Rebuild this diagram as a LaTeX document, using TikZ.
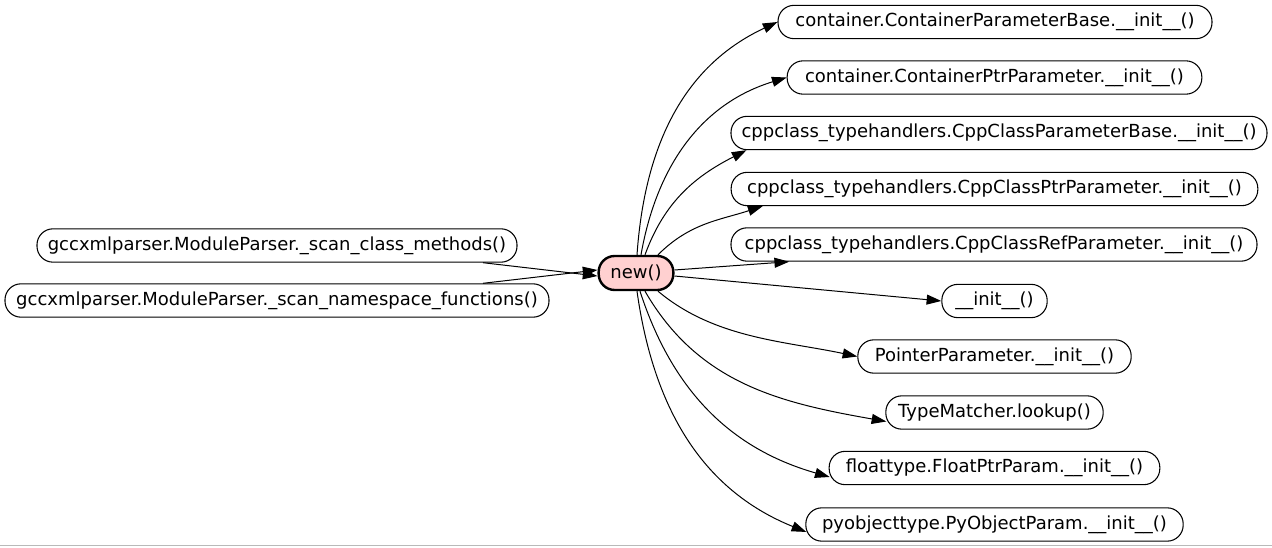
\documentclass[tikz,border=0pt]{standalone}
\usepackage{fontspec}
\setmainfont{DejaVu Sans}
\usetikzlibrary{arrows.meta,calc}
\definecolor{newfill}{RGB}{255,208,208}
\begin{document}
\begin{tikzpicture}[x=0.75pt,y=0.75pt,
  fn/.style={draw=black,line width=0.8pt,rounded corners=12pt,minimum height=25pt,
    inner sep=0pt,font=\fontsize{13.5pt}{15pt}\selectfont,fill=white},
  mainfn/.style={fn,fill=newfill,line width=1.8pt,minimum height=25.5pt},
  call/.style={line width=0.75pt,-{Triangle[length=11pt,width=7.5pt]}}]
\useasboundingbox[fill=white] (0,0) rectangle (1272,547);
\draw[gray!55,line width=1pt] (0,1.5) -- (1272,1.5);
% nodes
\node[mainfn,minimum width=56pt] (new) at (636,274) {new()};
\node[fn,minimum width=360pt] (l1) at (277,301.5) {gccxmlparser.ModuleParser.\_scan\_class\_methods()};
\node[fn,minimum width=408pt] (l2) at (277,246.5) {gccxmlparser.ModuleParser.\_scan\_namespace\_functions()};
\node[fn,minimum width=325.5pt] (c1) at (995,525) {container.ContainerParameterBase.\_\_init\_\_()};
\node[fn,minimum width=311pt] (c2) at (994.5,469.5) {container.ContainerPtrParameter.\_\_init\_\_()};
\node[fn,minimum width=402pt] (c3) at (999,414) {cppclass\_typehandlers.CppClassParameterBase.\_\_init\_\_()};
\node[fn,minimum width=395pt] (c4) at (994.5,358) {cppclass\_typehandlers.CppClassPtrParameter.\_\_init\_\_()};
\node[fn,minimum width=394.5pt] (c5) at (994,302.5) {cppclass\_typehandlers.CppClassRefParameter.\_\_init\_\_()};
\node[fn,minimum width=79pt] (c6) at (994.5,246) {\_\_init\_\_()};
\node[fn,minimum width=205pt] (c7) at (994.5,190.5) {PointerParameter.\_\_init\_\_()};
\node[fn,minimum width=163pt] (c8) at (994.5,134.5) {TypeMatcher.lookup()};
\node[fn,minimum width=248pt] (c9) at (994.5,79) {floattype.FloatPtrParam.\_\_init\_\_()};
\node[fn,minimum width=283pt] (c10) at (994.5,22.5) {pyobjecttype.PyObjectParam.\_\_init\_\_()};
% incoming
\draw[call] ([xshift=154.5pt]l1.south) -- ([yshift=-2.25pt]new.west);
\draw[call] ([xshift=154.5pt]l2.north) -- ([yshift=2.25pt]new.west);
% outgoing, upper
\draw[call] ([xshift=0.75pt]new.north) to[out=86,in=205] (c1.west);
\draw[call] ([xshift=3.75pt]new.north) to[out=80,in=197] (c2.west);
\draw[call] ([xshift=6.75pt]new.north) to[out=70,in=207] ([xshift=12pt]c3.south west);
\draw[call] ([xshift=16.5pt]new.north) to[out=45,in=198] ([xshift=24pt]c4.south west);
\draw[call] ([yshift=2.25pt]new.east) -- ([xshift=44pt]c5.south west);
\draw[call] ([yshift=-2.25pt]new.east) -- (c6.west);
% outgoing, lower
\draw[call] ([xshift=16.5pt]new.south) to[out=-40,in=168,looseness=0.9] (c7.west);
\draw[call] ([xshift=6.75pt]new.south) to[out=-60,in=170] ([xshift=0.75pt,yshift=-6.75pt]c8.west);
\draw[call] ([xshift=3pt]new.south) to[out=-72,in=164] ([xshift=0.75pt,yshift=-6.75pt]c9.west);
\draw[call] ([xshift=0.75pt]new.south) to[out=-82,in=158] ([xshift=0.75pt,yshift=-5.6pt]c10.west);
\end{tikzpicture}
\end{document}
